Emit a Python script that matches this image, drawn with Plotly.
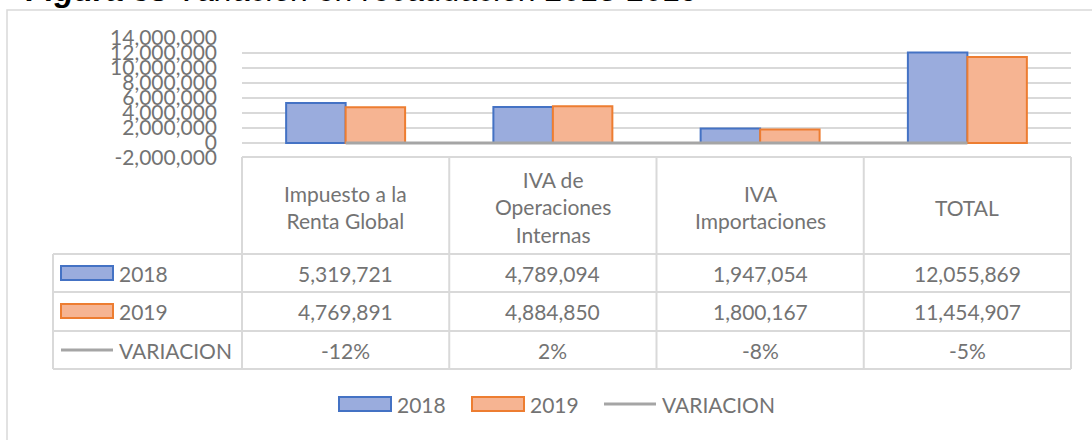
import plotly.graph_objects as go

# ---------------- data ----------------
categorias = ["Impuesto a la Renta Global", "IVA de Operaciones Internas", "IVA Importaciones", "TOTAL"]
etiquetas_tabla = ["Impuesto a la<br>Renta Global", "IVA de<br>Operaciones<br>Internas", "IVA<br>Importaciones", "TOTAL"]
valores_2018 = [5319721, 4789094, 1947054, 12055869]
valores_2019 = [4769891, 4884850, 1800167, 11454907]
variacion = [-0.12, 0.02, -0.08, -0.05]
series = ["2018", "2019", "VARIACION"]
titulo = "<b><i>Figura 38</i></b> <i>Variación en recaudación 2018-2019</i>"
y_ticks = [-2000000, 0, 2000000, 4000000, 6000000, 8000000, 10000000, 12000000, 14000000]

# ---------------- style ----------------
W, H = 1092, 440
PL, PR, PT, PB = 242, 1071, 38, 158
FONT = "Lato"
TXT = "#737373"
GRID = "#d9d9d9"
BLUE_FILL, BLUE_LINE = "#9aacdd", "#4472c4"
ORANGE_FILL, ORANGE_LINE = "#f6b492", "#ed7d31"
GRAY_LINE = "#a5a5a5"


def px(x):
    return (x - PL) / (PR - PL)


def py(y):
    return (PB - y) / (PB - PT)


fig = go.Figure()
fig.add_trace(go.Bar(x=categorias, y=valores_2018, name=series[0],
                     marker=dict(color=BLUE_FILL, line=dict(color=BLUE_LINE, width=2))))
fig.add_trace(go.Bar(x=categorias, y=valores_2019, name=series[1],
                     marker=dict(color=ORANGE_FILL, line=dict(color=ORANGE_LINE, width=2))))
fig.add_trace(go.Scatter(x=categorias, y=variacion, name=series[2], mode="lines",
                         line=dict(color=GRAY_LINE, width=3)))

shapes = []
annotations = []

# chart frame
shapes.append(dict(type="rect", xref="paper", yref="paper", x0=px(7), x1=px(1200), y0=py(10), y1=py(520),
                   line=dict(color=GRID, width=1.5), fillcolor="rgba(0,0,0,0)", layer="below"))

# title (clipped at top, as in reference)
annotations.append(dict(text=titulo, xref="paper", yref="paper", x=px(24), y=py(10), xanchor="left",
                        yanchor="bottom", showarrow=False, font=dict(family="Liberation Sans", size=32, color="#000000")))

# table geometry
row_edges = [158, 254, 292, 331, 369]
col_left = 53
ncat = len(categorias)

shapes.append(dict(type="line", xref="paper", yref="paper", x0=0, x1=1, y0=py(157), y1=py(157),
                   line=dict(color=GRID, width=2)))
for yy in row_edges[1:]:
    shapes.append(dict(type="line", xref="paper", yref="paper", x0=px(col_left), x1=1, y0=py(yy), y1=py(yy),
                       line=dict(color=GRID, width=2)))
for i in range(ncat + 1):
    shapes.append(dict(type="line", xref="paper", yref="paper", x0=i / ncat, x1=i / ncat,
                       y0=py(157), y1=py(369), line=dict(color=GRID, width=2)))
shapes.append(dict(type="line", xref="paper", yref="paper", x0=px(col_left), x1=px(col_left),
                   y0=py(254), y1=py(369), line=dict(color=GRID, width=2)))

FS = 21
for cat, lab in zip(categorias, etiquetas_tabla):
    annotations.append(dict(text=lab, xref="x", yref="paper", x=cat, y=py(207), showarrow=False,
                            xanchor="center", yanchor="middle", align="center",
                            font=dict(family=FONT, size=FS, color=TXT)))

row_centers = [273, 311, 350]
rows = [[f"{v:,}" for v in valores_2018],
        [f"{v:,}" for v in valores_2019],
        [f"{round(v * 100):d}%" for v in variacion]]
for rc, vals in zip(row_centers, rows):
    for cat, t in zip(categorias, vals):
        annotations.append(dict(text=t, xref="x", yref="paper", x=cat, y=py(rc), showarrow=False,
                                xanchor="center", yanchor="middle",
                                font=dict(family=FONT, size=FS, color=TXT)))


def legend_key(kind, x0, yc, fill, line):
    if kind == "bar":
        shapes.append(dict(type="rect", xref="paper", yref="paper", x0=px(x0), x1=px(x0 + 52),
                           y0=py(yc - 7), y1=py(yc + 7), fillcolor=fill, line=dict(color=line, width=2)))
    else:
        shapes.append(dict(type="line", xref="paper", yref="paper", x0=px(x0), x1=px(x0 + 52),
                           y0=py(yc), y1=py(yc), line=dict(color=line, width=3)))


keys = [("bar", BLUE_FILL, BLUE_LINE), ("bar", ORANGE_FILL, ORANGE_LINE), ("line", None, GRAY_LINE)]
for rc, name, (kind, fill, line) in zip(row_centers, series, keys):
    legend_key(kind, 61, rc, fill, line)
    annotations.append(dict(text=name, xref="paper", yref="paper", x=px(117), y=py(rc), showarrow=False,
                            xanchor="left", yanchor="middle", font=dict(family=FONT, size=FS, color=TXT)))

leg_x = [339, 472, 604]
for lx, name, (kind, fill, line) in zip(leg_x, series, keys):
    legend_key(kind, lx, 404, fill, line)
    annotations.append(dict(text=name, xref="paper", yref="paper", x=px(lx + 56), y=py(404), showarrow=False,
                            xanchor="left", yanchor="middle", font=dict(family=FONT, size=FS, color=TXT)))

fig.update_layout(
    width=W, height=H,
    margin=dict(l=PL, r=W - PR, t=PT, b=H - PB, autoexpand=False),
    paper_bgcolor="white", plot_bgcolor="white",
    barmode="group", bargap=0.426, bargroupgap=0,
    showlegend=False,
    shapes=shapes, annotations=annotations,
    xaxis=dict(showticklabels=False, showgrid=False, zeroline=False, showline=False, ticks=""),
    yaxis=dict(range=[-2000000, 14000000], tickvals=y_ticks, ticktext=[f"{v:,}" for v in y_ticks],
               showgrid=True, gridcolor=GRID, gridwidth=1.5, zeroline=False, showline=False, ticks="",
               ticklabelstandoff=24, tickfont=dict(family=FONT, size=21, color=TXT)),
)

fig.write_html("out.html", config={"displayModeBar": False},
               post_script="document.body.style.margin='0';")
